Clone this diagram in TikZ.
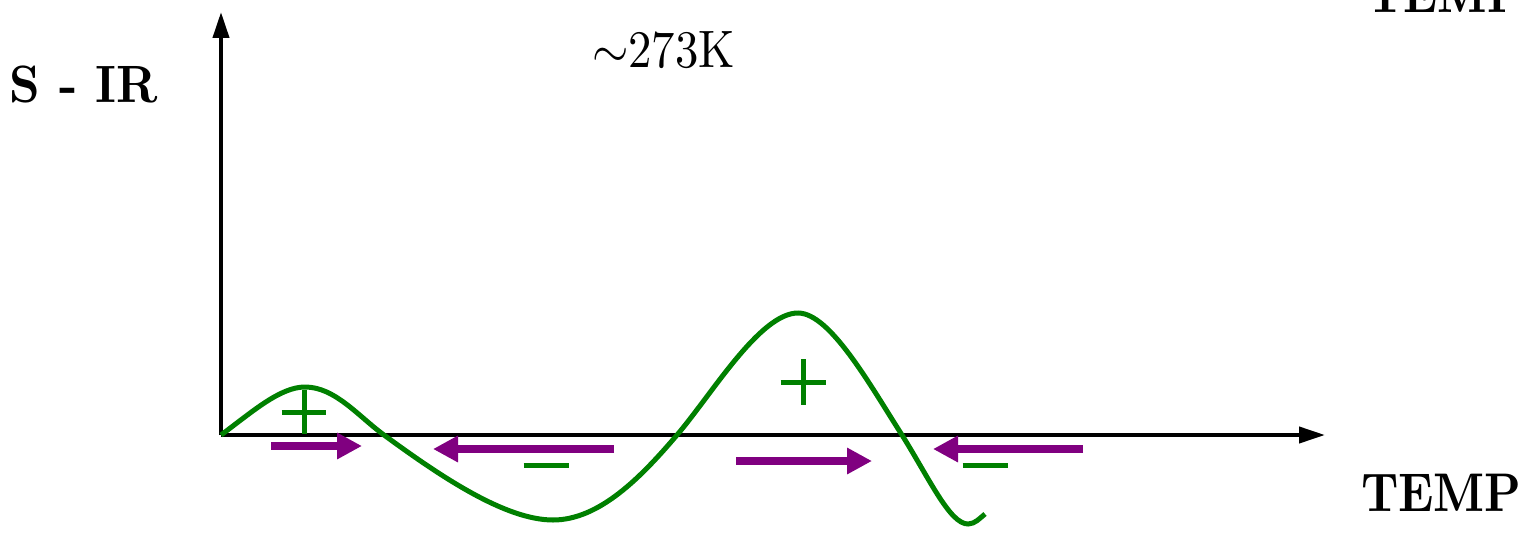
\documentclass[tikz,border=0pt]{standalone}
\usetikzlibrary{arrows.meta}
\definecolor{curvegreen}{HTML}{008000}
\definecolor{arrowpurple}{HTML}{800080}
\begin{document}
\begin{tikzpicture}[x=0.02cm,y=-0.02cm,
  axis/.style={line width=0.08cm,-{Triangle[length=0.52cm,width=0.32cm]}},
  curve/.style={curvegreen,line width=0.1cm},
  flowarrow/.style={arrowpurple,line width=0.16cm,-{Triangle[length=0.5cm,width=0.5cm]}},
  sign/.style={curvegreen,line width=0.1cm},
  lbl/.style={inner sep=0pt,outer sep=0pt}]
\useasboundingbox (0,0) rectangle (1531,534);
% axes
\coordinate (O) at (221,435);
\coordinate (ytip) at (221,12);
\coordinate (xtip) at (1325,435);
\draw[axis] (O) -- (ytip);
\draw[axis] (O) -- (xtip);
% labels
\node[lbl,anchor=base west] (ylabel) at (10,102) {\scalebox{2.73}[2.99]{\bfseries S - IR}};
\node[lbl,anchor=base west] (xlabel) at (1361,511) {\scalebox{2.66}[3.1]{\bfseries TEMP}};
\node[lbl,anchor=base west] (toplabel) at (1367,12) {\scalebox{2.58}[3.1]{\bfseries TEMP}};
\node[lbl,anchor=base west] (temp) at (592,67) {\scalebox{2.66}[3.0]{$\sim$273K}};
% curve
\draw[curve] (O) .. controls (252,412) and (280,387) .. (305,387)
  .. controls (335,387) and (358,416) .. (384,435)
  .. controls (440,476) and (505,520) .. (553,520)
  .. controls (600,520) and (642,476) .. (677,435)
  .. controls (712,394) and (760,313) .. (798,313)
  .. controls (830,313) and (870,385) .. (902,435)
  .. controls (930,480) and (950,524) .. (968,524)
  .. controls (975,524) and (980,518) .. (985,514);
% signs
\coordinate (p1) at (304,412);
\coordinate (p2) at (803,382);
\coordinate (m1) at (546,465);
\coordinate (m2) at (985,465);
\draw[sign] ([xshift=-0.45cm]p1) -- ([xshift=0.45cm]p1);
\draw[sign] ([yshift=0.44cm]p1) -- ([yshift=-0.44cm]p1);
\draw[sign] ([xshift=-0.45cm]p2) -- ([xshift=0.45cm]p2);
\draw[sign] ([yshift=0.46cm]p2) -- ([yshift=-0.46cm]p2);
\draw[sign] ([xshift=-0.45cm]m1) -- ([xshift=0.45cm]m1);
\draw[sign] ([xshift=-0.45cm]m2) -- ([xshift=0.45cm]m2);
% flow arrows
\coordinate (a1s) at (271,446); \coordinate (a1e) at (362,446);
\coordinate (a2s) at (614,449); \coordinate (a2e) at (433,449);
\coordinate (a3s) at (736,461); \coordinate (a3e) at (872,461);
\coordinate (a4s) at (1083,449); \coordinate (a4e) at (933,449);
\draw[flowarrow] (a1s) -- (a1e);
\draw[flowarrow] (a2s) -- (a2e);
\draw[flowarrow] (a3s) -- (a3e);
\draw[flowarrow] (a4s) -- (a4e);
\end{tikzpicture}
\end{document}
